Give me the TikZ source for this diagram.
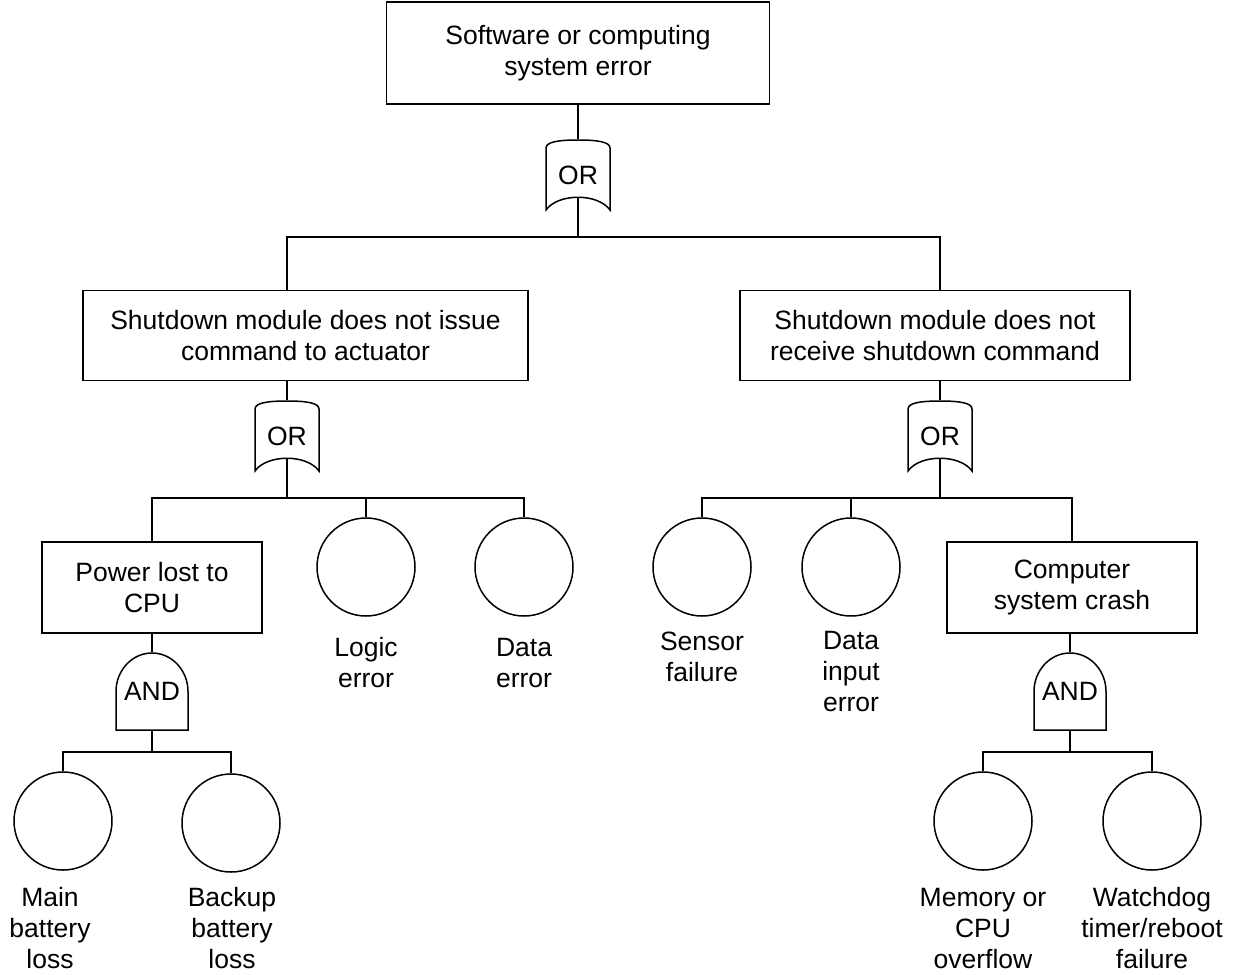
\documentclass[tikz,border=0pt]{standalone}
\usepackage{fontspec}
\setmainfont{Liberation Sans}
\newcommand\dgfont{\fontsize{26.5pt}{31pt}\selectfont}
\newcommand\ORshape[1]{\draw[shift={(#1.center)}] (-32,-27) .. controls (-32,-33) and (-20,-35) .. (0,-35) .. controls (20,-35) and (32,-33) .. (32,-27) -- (32,35) .. controls (20,18) and (-20,18) .. (-32,35) -- cycle;}
\newcommand\ANDshape[1]{\draw[shift={(#1.center)}] (-36,38.5) -- (-36,0) .. controls (-36,-21) and (-20,-38.5) .. (0,-38.5) .. controls (20,-38.5) and (36,-21) .. (36,0) -- (36,38.5) -- cycle;}
\begin{document}
\begin{tikzpicture}[x=1pt,y=-1pt,line width=1.5pt,
  box/.style={draw, rectangle, inner sep=0pt, align=center, font=\dgfont},
  event/.style={draw, circle, minimum size=98pt, inner sep=0pt},
  lbl/.style={align=center, inner sep=0pt, font=\dgfont},
  gate/.style={inner sep=0pt, font=\dgfont, minimum width=64pt, minimum height=70pt},
  andgate/.style={inner sep=0pt, font=\dgfont, minimum width=72pt, minimum height=77pt}]
\useasboundingbox (0,0) rectangle (1233,974);

% top
\node[box, minimum width=383pt, minimum height=102pt] (T) at (578,53) {Software or computing\\system error};
\node[gate] (G1) at (578,175) {OR};
\ORshape{G1}
\coordinate (B1) at (578,237);

% second level
\node[box, minimum width=445pt, minimum height=90pt] (L) at (305.5,335.5) {Shutdown module does not issue\\command to actuator};
\node[box, minimum width=390pt, minimum height=90pt] (R) at (935,335.5) {Shutdown module does not\\receive shutdown command};
\node[gate] (G2) at (287,436) {OR};
\ORshape{G2}
\node[gate] (G3) at (940,436) {OR};
\ORshape{G3}
\coordinate (B2) at (287,498);
\coordinate (B3) at (940,498);

% third level left
\node[box, minimum width=220pt, minimum height=91pt] (P) at (152,587.5) {Power lost to\\CPU};
\node[event] (C1) at (366,567) {};
\node[event] (C2) at (524,567) {};
\node[lbl] (LC1) at (366,663) {Logic\\error};
\node[lbl] (LC2) at (524,663) {Data\\error};

% third level right
\node[event] (C3) at (702,567) {};
\node[event] (C4) at (851,567) {};
\node[box, minimum width=250pt, minimum height=91pt] (K) at (1072,587.5) {Computer\\system crash};
\node[lbl] (LC3) at (702,657) {Sensor\\failure};
\node[lbl] (LC4) at (851,672) {Data\\input\\error};

% AND gates
\node[andgate] (A1) at (152,691.5) {AND};
\ANDshape{A1}
\node[andgate] (A2) at (1070,691.5) {AND};
\ANDshape{A2}
\coordinate (B4) at (152,752);
\coordinate (B5) at (1070,752);

% bottom events
\node[event] (M1) at (63,821) {};
\node[event] (M2) at (231,823) {};
\node[event] (M3) at (983,821) {};
\node[event] (M4) at (1152,821) {};
\node[lbl] (LM1) at (50,928) {Main\\battery\\loss};
\node[lbl] (LM2) at (232,928) {Backup\\battery\\loss};
\node[lbl] (LM3) at (983,928) {Memory or\\CPU\\overflow};
\node[lbl] (LM4) at (1152,928) {Watchdog\\timer/reboot\\failure};

% connectors
\draw (T.south) -- (G1.north);
\draw ([yshift=13pt]G1.south) -- (B1);
\draw (L.north -| G2.center) |- (B1) -| (R.north -| G3.center);
\draw (L.south -| G2.center) -- (G2.north);
\draw (R.south -| G3.center) -- (G3.north);
\draw ([yshift=13pt]G2.south) -- (B2);
\draw ([yshift=13pt]G3.south) -- (B3);
\draw (P.north) |- (B2) -| (C2.north);
\draw (B2 -| C1.north) -- (C1.north);
\draw (C3.north) |- (B3) -| (K.north);
\draw (B3 -| C4.north) -- (C4.north);
\draw (P.south) -- (A1.north);
\draw (K.south -| A2.center) -- (A2.north);
\draw (A1.south) -- (B4);
\draw (A2.south) -- (B5);
\draw (M1.north) |- (B4) -| (M2.north);
\draw (M3.north) |- (B5) -| (M4.north);
\end{tikzpicture}
\end{document}
